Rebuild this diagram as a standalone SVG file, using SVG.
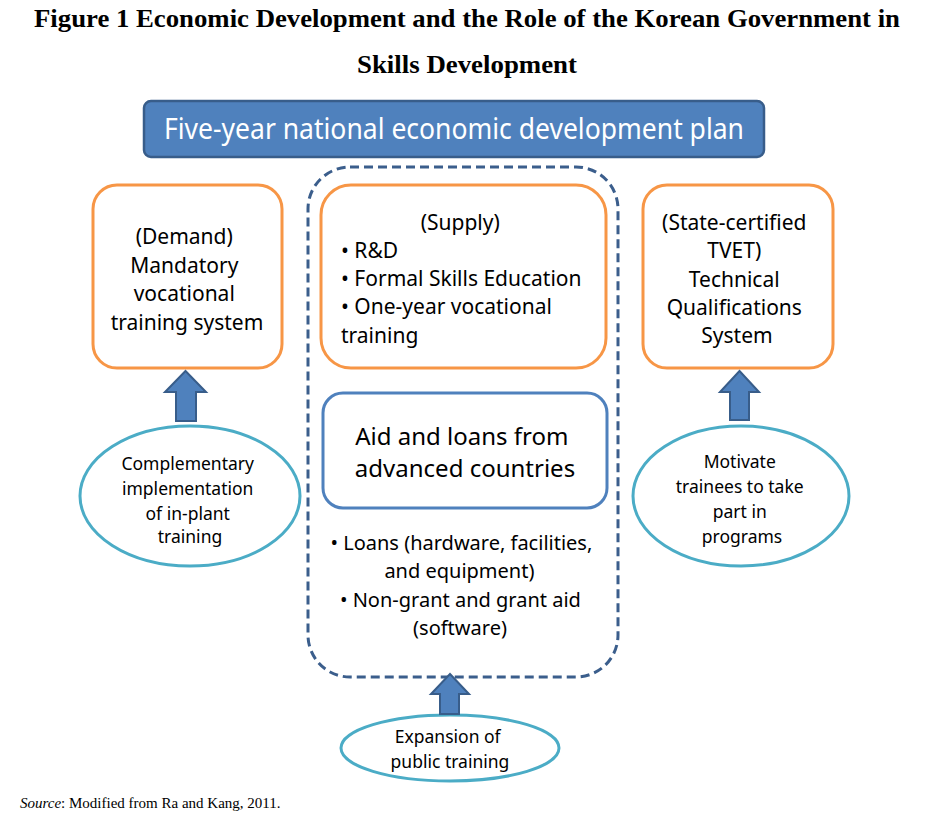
<svg xmlns="http://www.w3.org/2000/svg" width="938" height="827" viewBox="0 0 938 827">
<style>
.title{font-family:"Liberation Serif","Times New Roman",serif;font-weight:bold;font-size:26px;fill:#000}
.src{font-family:"Liberation Serif","Times New Roman",serif;font-size:15px;fill:#000}
.t{font-family:"Noto Sans","Open Sans",sans-serif;fill:#000}
.box{fill:#fff;stroke:#F79646;stroke-width:3}
.aid{fill:#fff;stroke:#4F81BD;stroke-width:3}
.ell{fill:#fff;stroke:#4BACC6;stroke-width:3}
.arrow{fill:#4F81BD;stroke:#385D8A;stroke-width:2;stroke-linejoin:miter}
.dash{fill:none;stroke:#3B5E8C;stroke-width:3;stroke-dasharray:9 5}
</style>
<rect width="938" height="827" fill="#fff"/>
<text class="title" x="467" y="27" text-anchor="middle" textLength="866" lengthAdjust="spacingAndGlyphs">Figure 1 Economic Development and the Role of the Korean Government in</text>
<text class="title" x="467" y="73" text-anchor="middle" textLength="220" lengthAdjust="spacingAndGlyphs">Skills Development</text>

<g id="plan">
<rect x="144" y="101" width="620" height="56" rx="7" fill="#4F81BD" stroke="#385D8A" stroke-width="2.5"/>
<text class="t" x="454" y="139" text-anchor="middle" font-size="29" style="fill:#fff" textLength="580" lengthAdjust="spacingAndGlyphs">Five-year national economic development plan</text>
</g>

<g id="container">
<rect class="dash" x="308" y="167" width="310" height="510" rx="42"/>
</g>

<g id="demand">
<rect class="box" x="93" y="185" width="189" height="183" rx="24"/>
<text class="t" font-size="21" text-anchor="middle">
<tspan x="187" y="244">(Demand)</tspan>
<tspan x="187" y="273">Mandatory</tspan>
<tspan x="187" y="301">vocational</tspan>
<tspan x="187" y="330">training system</tspan>
</text>
</g>

<g id="supply">
<rect class="box" x="321" y="185" width="285" height="183" rx="30"/>
<text class="t" font-size="21">
<tspan x="463" y="230" text-anchor="middle">(Supply)</tspan>
<tspan x="341" y="258">• R&amp;D</tspan>
<tspan x="341" y="286">• Formal Skills Education</tspan>
<tspan x="341" y="314">• One-year vocational</tspan>
<tspan x="341" y="343">training</tspan>
</text>
</g>

<g id="tvet">
<rect class="box" x="643" y="185" width="190" height="183" rx="24"/>
<text class="t" font-size="21" text-anchor="middle">
<tspan x="737" y="230">(State-certified</tspan>
<tspan x="737" y="258">TVET)</tspan>
<tspan x="737" y="287">Technical</tspan>
<tspan x="737" y="315">Qualifications</tspan>
<tspan x="737" y="343">System</tspan>
</text>
</g>

<g id="aid">
<rect class="aid" x="323" y="393" width="284" height="115" rx="20"/>
<text class="t" font-size="24" text-anchor="middle">
<tspan x="465" y="445">Aid and loans from</tspan>
<tspan x="465" y="477">advanced countries</tspan>
</text>
</g>

<g id="aid-items">
<text class="t" font-size="20" text-anchor="middle">
<tspan x="464" y="550">• Loans (hardware, facilities,</tspan>
<tspan x="462" y="578">and equipment)</tspan>
<tspan x="463" y="607">• Non-grant and grant aid</tspan>
<tspan x="460" y="635">(software)</tspan>
</text>
</g>

<g id="inplant">
<ellipse class="ell" cx="190" cy="496" rx="110" ry="70"/>
<text class="t" font-size="17.5" text-anchor="middle">
<tspan x="190" y="470">Complementary</tspan>
<tspan x="190" y="495">implementation</tspan>
<tspan x="190" y="520">of in-plant</tspan>
<tspan x="190" y="543">training</tspan>
</text>
</g>

<g id="motivate">
<ellipse class="ell" cx="741" cy="496" rx="108" ry="70"/>
<text class="t" font-size="17.5" text-anchor="middle">
<tspan x="742" y="468">Motivate</tspan>
<tspan x="742" y="493">trainees to take</tspan>
<tspan x="742" y="518">part in</tspan>
<tspan x="742" y="543">programs</tspan>
</text>
</g>

<g id="public">
<ellipse class="ell" cx="450" cy="748" rx="109" ry="33"/>
<text class="t" font-size="17.5" text-anchor="middle">
<tspan x="450" y="743">Expansion of</tspan>
<tspan x="450" y="768">public training</tspan>
</text>
</g>

<g id="connectors">
<polygon class="arrow" points="185.5,371 206,392 196,392 196,421 176,421 176,392 165,392"/>
<polygon class="arrow" points="739.5,371 759,392 749,392 749,420 730,420 730,392 720,392"/>
<polygon class="arrow" points="450,674 469,694 459,694 459,714 440,714 440,694 431,694"/>
</g>

<text class="src" x="20" y="808"><tspan font-style="italic">Source</tspan>: Modified from Ra and Kang, 2011.</text>
</svg>
